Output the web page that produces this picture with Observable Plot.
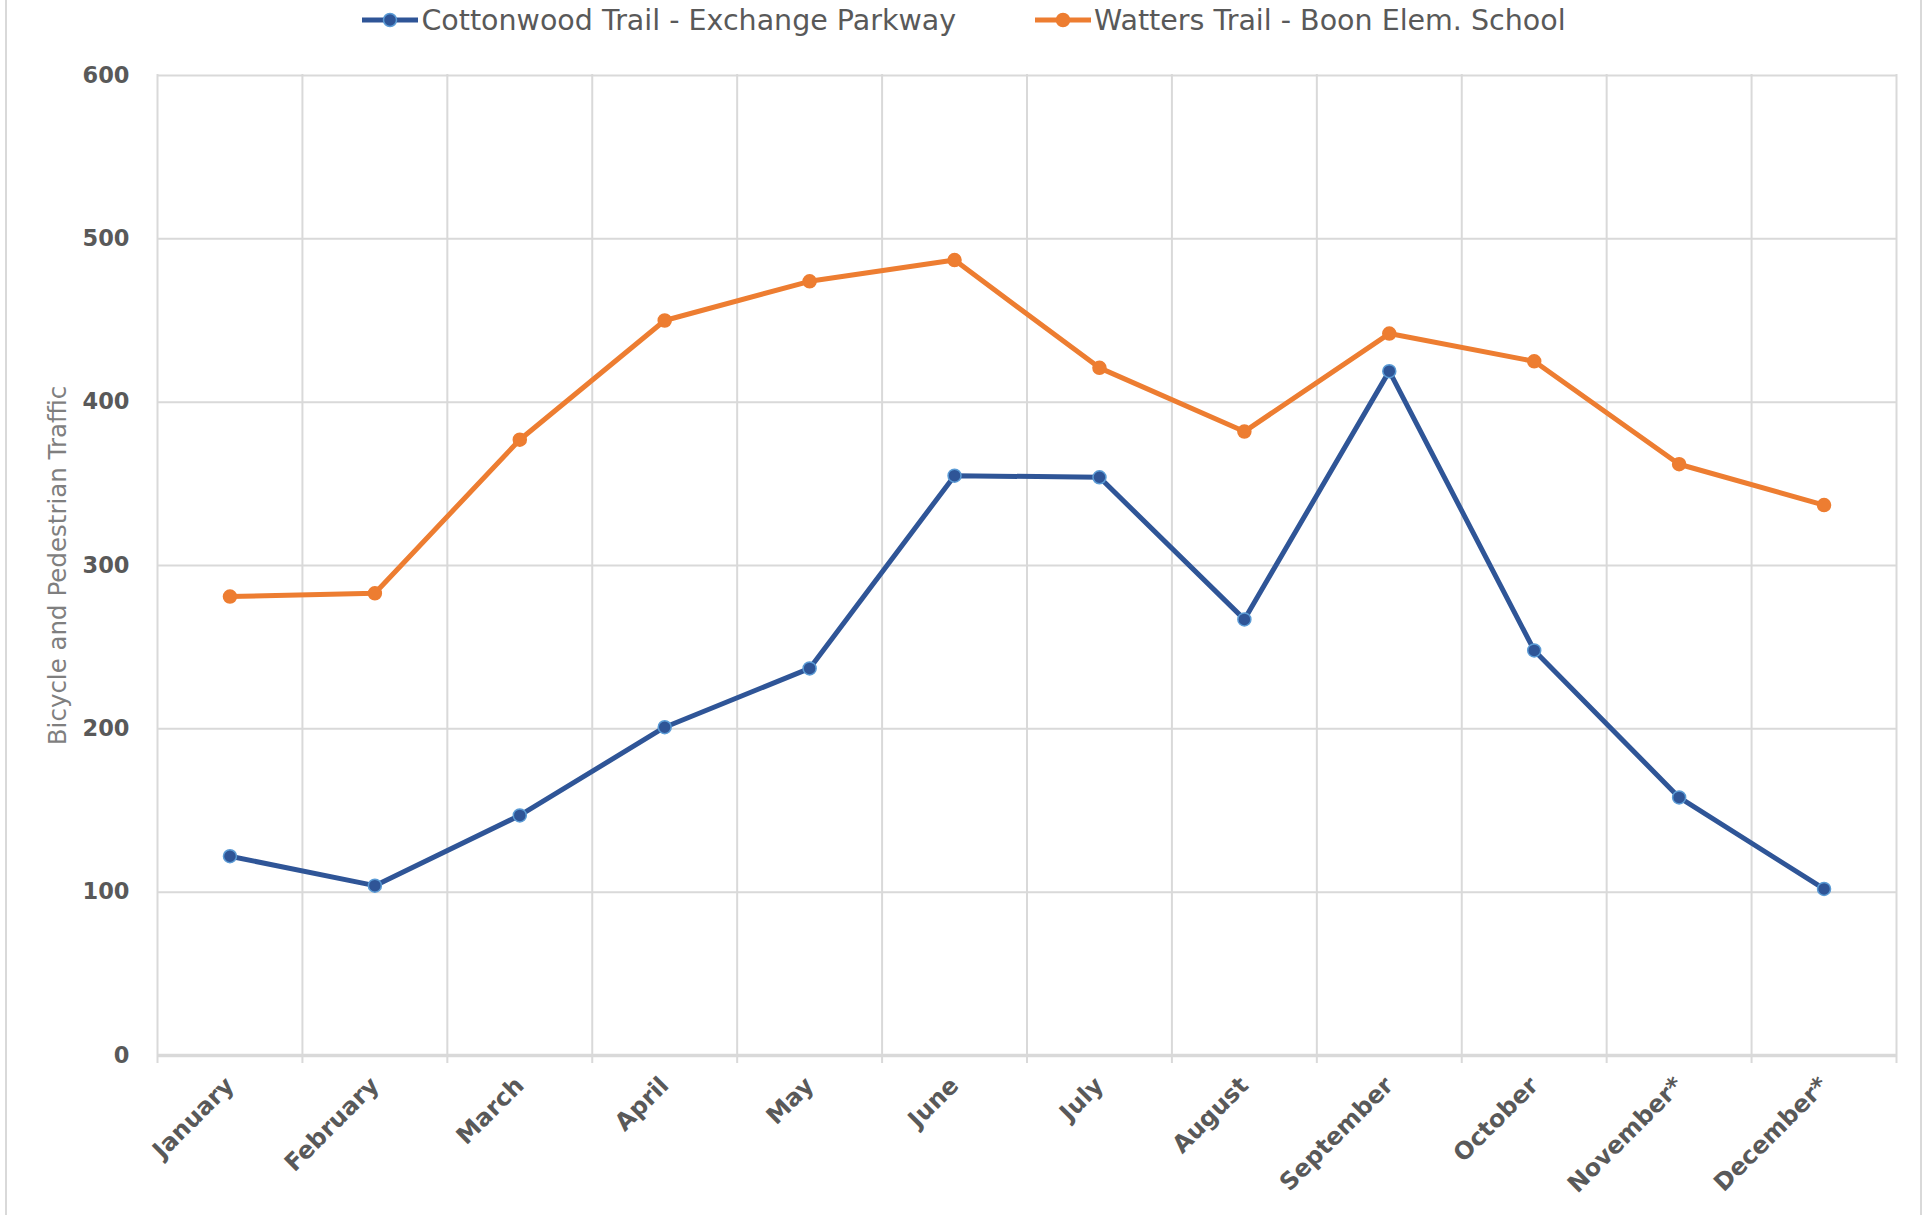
<!DOCTYPE html>
<html><head><meta charset="utf-8">
<script src="https://cdn.jsdelivr.net/npm/d3@7"></script>
<script src="https://cdn.jsdelivr.net/npm/@observablehq/plot@0.6"></script>
<style>
body{margin:0;background:#fff;font-family:"DejaVu Sans",sans-serif;}
#wrap{position:relative;width:1927px;height:1215px;overflow:hidden;background:#fff;}
#frame{position:absolute;left:5px;top:-10px;width:1913px;height:1300px;border-left:2px solid #d9d9d9;border-right:2px solid #d9d9d9;pointer-events:none;}
#legend{position:absolute;top:0;left:0;width:1927px;height:40px;display:flex;justify-content:center;align-items:center;gap:78px;font-size:28.5px;color:#595959;}
#legend .item{display:flex;align-items:center;}
#legend svg{margin-right:2px;}
#chart{position:absolute;top:0;left:0;}
</style>
</head><body>
<div id="wrap"><div id="chart"></div><div id="legend"></div><div id="frame"></div></div>
<script>
const months = ["January","February","March","April","May","June","July","August","September","October","November*","December*"];
const cottonwood = [122,104,147,201,237,355,354,267,419,248,158,102];
const watters = [281,283,377,450,474,487,421,382,442,425,362,337];
const seriesNames = ["Cottonwood Trail - Exchange Parkway","Watters Trail - Boon Elem. School"];
const seriesColors = ["#2F5597","#ED7D31"];
const markerOutlines = ["#5B9BD5","#ED7D31"];
const yTicks = [0,100,200,300,400,500,600];
const yTitle = "Bicycle and Pedestrian Traffic";

const seriesValues = [cottonwood, watters];
const yMax = yTicks[yTicks.length-1];
const bounds = d3.range(months.length+1).map(k => k - 0.5);

const lineMarks = seriesValues.flatMap((vals, s) => [
  Plot.line(vals, {x:(d,i)=>i, y:d=>d, stroke:seriesColors[s], strokeWidth:5, strokeLinejoin:"round"}),
  Plot.dot(vals, {x:(d,i)=>i, y:d=>d, r:6.5, fill:seriesColors[s], stroke:markerOutlines[s], strokeWidth:1.5})
]);

const chart = Plot.plot({
  width:1927, height:1215,
  marginTop:75, marginBottom:160, marginLeft:157, marginRight:31,
  style:{fontFamily:"DejaVu Sans, sans-serif", background:"white", overflow:"visible"},
  x:{type:"linear", domain:[-0.5, months.length-0.5], axis:null},
  y:{domain:[0,yMax], axis:null},
  marks:[
    Plot.ruleY(yTicks.filter(t=>t>0), {stroke:"#d9d9d9", strokeWidth:2}),
    Plot.ruleX(bounds, {x:d=>d, y1:()=>yMax, y2:()=>0, insetTop:-1, insetBottom:-8, stroke:"#d9d9d9", strokeWidth:2}),
    Plot.ruleY([0], {stroke:"#d9d9d9", strokeWidth:3.5}),
    Plot.axisY(yTicks, {tickSize:0, tickPadding:28, fontSize:22.5, fontWeight:"bold", color:"#595959", label:null}),
    Plot.axisX(d3.range(months.length), {tickFormat:i=>months[i], tickRotate:-45, tickSize:0, tickPadding:26, fontSize:24, fontWeight:"bold", color:"#595959", label:null}),
    Plot.text([yTitle], {text:d=>d, frameAnchor:"left", dx:-99, rotate:-90, textAnchor:"middle", fontSize:24.5, fill:"#7f7f7f"}),
    ...lineMarks
  ]
});
document.getElementById("chart").appendChild(chart);

const legend = document.getElementById("legend");
seriesNames.forEach((name, s) => {
  const item = document.createElement("div");
  item.className = "item";
  item.innerHTML = `<svg width="58" height="20"><line x1="1" y1="10" x2="57" y2="10" stroke="${seriesColors[s]}" stroke-width="5"/><circle cx="29" cy="10" r="6.5" fill="${seriesColors[s]}" stroke="${markerOutlines[s]}" stroke-width="1.5"/></svg><span>${name}</span>`;
  legend.appendChild(item);
});
</script>
</body></html>
